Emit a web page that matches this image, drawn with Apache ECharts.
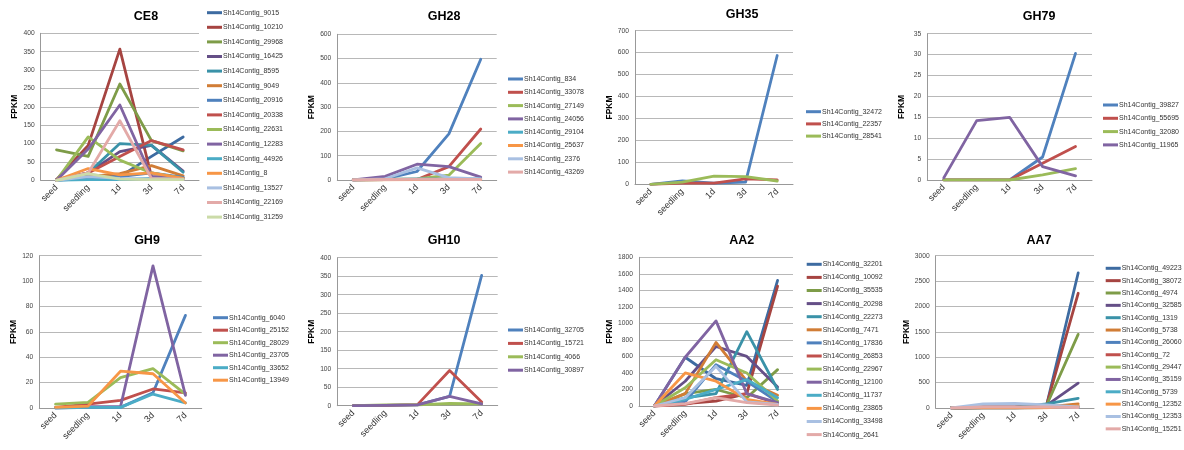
<!DOCTYPE html>
<html>
<head>
<meta charset="utf-8">
<script src="https://cdn.jsdelivr.net/npm/echarts@6/dist/echarts.min.js"></script>
<style>
  html, body { margin: 0; padding: 0; background: #fff; }
  #chart { width: 1184px; height: 450px; }
</style>
</head>
<body>
<div id="chart"></div>
<script>
// Sampling stages shared by every panel
const stages = ['seed', 'seedling', '1d', '3d', '7d'];

// CE8
const ce8Contigs = ['9015', '10210', '29968', '16425', '8595', '9049', '20916', '20338', '22631', '12283', '44926', '8', '13527', '22169', '31259'];
const ce8Fpkm = [
  [2, 15, 10, 65, 118],
  [2, 95, 357, 10, 5],
  [83, 65, 262, 108, 80],
  [2, 20, 78, 95, 25],
  [0, 20, 100, 95, 22],
  [0, 10, 18, 40, 12],
  [0, 5, 10, 20, 8],
  [0, 20, 65, 108, 83],
  [0, 118, 55, 20, 5],
  [0, 85, 205, 10, 5],
  [0, 2, 2, 5, 5],
  [0, 32, 15, 20, 5],
  [0, 10, 5, 3, 2],
  [0, 20, 162, 5, 3],
  [0, 18, 3, 2, 2]
];

// GH28
const gh28Contigs = ['834', '33078', '27149', '24056', '29104', '25637', '2376', '43269'];
const gh28Fpkm = [
  [0, 5, 35, 190, 497],
  [0, 2, 2, 55, 210],
  [0, 2, 5, 20, 150],
  [0, 15, 65, 55, 12],
  [0, 2, 5, 5, 5],
  [0, 1, 2, 3, 2],
  [0, 5, 50, 10, 5],
  [0, 2, 3, 2, 2]
];

// GH35
const gh35Contigs = ['32472', '22357', '28541'];
const gh35Fpkm = [
  [0, 15, 5, 10, 587],
  [0, 5, 5, 25, 20],
  [0, 10, 37, 35, 15]
];

// GH79
const gh79Contigs = ['39827', '55695', '32080', '11965'];
const gh79Fpkm = [
  [0, 0, 0, 5.5, 30.3],
  [0, 0, 0, 4, 8],
  [0, 0, 0, 1.2, 2.7],
  [0.5, 14.2, 15, 3.2, 1]
];

// GH9
const gh9Contigs = ['6040', '25152', '28029', '23705', '33652', '13949'];
const gh9Fpkm = [
  [0, 0.5, 0.5, 12, 73],
  [0.5, 3, 6, 15, 12],
  [3, 4.5, 24, 31, 11],
  [0, 1, 1, 112, 10],
  [0, 0.5, 0.5, 11, 4],
  [0.5, 1.5, 29, 27, 4]
];

// GH10
const gh10Contigs = ['32705', '15721', '4066', '30897'];
const gh10Fpkm = [
  [0, 1, 2, 25, 352],
  [0, 1, 3, 95, 10],
  [0, 2, 2, 6, 5],
  [0, 1, 2, 25, 5]
];

// AA2
const aa2Contigs = ['32201', '10092', '35535', '20298', '22273', '7471', '17836', '26853', '22967', '12100', '11737', '23865', '33498', '2641'];
const aa2Fpkm = [
  [0, 590, 330, 250, 1520],
  [0, 30, 60, 150, 1450],
  [0, 150, 200, 100, 440],
  [0, 300, 720, 600, 230],
  [0, 100, 150, 900, 200],
  [0, 150, 770, 300, 130],
  [0, 50, 500, 300, 50],
  [0, 20, 100, 150, 30],
  [0, 220, 560, 400, 60],
  [0, 590, 1030, 150, 40],
  [0, 80, 200, 320, 100],
  [0, 400, 300, 80, 20],
  [0, 100, 480, 50, 20],
  [0, 30, 100, 40, 10]
];

// AA7
const aa7Contigs = ['49223', '38072', '4974', '32585', '1319', '5738', '26060', '72', '29447', '35159', '5739', '12352', '12353', '15251'];
const aa7Fpkm = [
  [0, 20, 20, 50, 2660],
  [0, 15, 15, 50, 2260],
  [0, 10, 10, 50, 1450],
  [0, 10, 10, 50, 490],
  [0, 10, 10, 80, 190],
  [0, 5, 5, 20, 80],
  [0, 5, 5, 20, 30],
  [0, 5, 5, 10, 20],
  [0, 5, 5, 10, 15],
  [0, 5, 5, 10, 10],
  [0, 5, 5, 10, 20],
  [0, 3, 3, 5, 40],
  [0, 80, 90, 60, 20],
  [0, 20, 20, 20, 10]
];

// Office-style palettes: shaded, base and tinted accents
const shade = ['#3d6ba1', '#a64441', '#7e9c48', '#654f87', '#3a92a8', '#d17d36'];
const base = ['#4f81bd', '#c0504d', '#9bbb59', '#8064a2', '#4bacc6', '#f79646'];
const tint = ['#a9c0e2', '#e3aaa8', '#cbdba8', '#c1b3d6', '#a8d6e3', '#fbc59b'];
const manyColors = shade.concat(base, tint);
const fewColors = base.concat(tint);

// Panel layout in pixels
const panels = [
  { title: 'CE8',  contigs: ce8Contigs,  fpkm: ce8Fpkm,  max: 400,  step: 50,  colors: manyColors,
    grid: [40.7, 33.3, 158.3, 147],   titleXY: [146, 17],   nameGap: 16, legend: [207, 12.7, 14.6] },
  { title: 'GH28', contigs: gh28Contigs, fpkm: gh28Fpkm, max: 600,  step: 100, colors: fewColors,
    grid: [337.3, 34.3, 159.4, 145.7], titleXY: [444, 17],   nameGap: 20, legend: [508, 79, 13.3] },
  { title: 'GH35', contigs: gh35Contigs, fpkm: gh35Fpkm, max: 700,  step: 100, colors: fewColors,
    grid: [635, 30.7, 158, 153.6],    titleXY: [742, 15],   nameGap: 18, legend: [806, 111.7, 12.2] },
  { title: 'GH79', contigs: gh79Contigs, fpkm: gh79Fpkm, max: 35,   step: 5,   colors: fewColors,
    grid: [927.3, 33.7, 164.7, 146.3], titleXY: [1039, 17],  nameGap: 21, legend: [1103, 105, 13.3] },
  { title: 'GH9',  contigs: gh9Contigs,  fpkm: gh9Fpkm,  max: 120,  step: 20,  colors: fewColors,
    grid: [39.3, 255.7, 162.4, 152.3], titleXY: [147, 240.7], nameGap: 18, legend: [213, 317.7, 12.5] },
  { title: 'GH10', contigs: gh10Contigs, fpkm: gh10Fpkm, max: 400,  step: 50,  colors: fewColors,
    grid: [337.3, 257.7, 160.4, 148], titleXY: [444, 240.7], nameGap: 20, legend: [508, 330, 13.4] },
  { title: 'AA2',  contigs: aa2Contigs,  fpkm: aa2Fpkm,  max: 1800, step: 200, colors: manyColors,
    grid: [639, 257.3, 154, 148.7],   titleXY: [741.7, 240.7], nameGap: 22, legend: [806.7, 264.3, 13.1] },
  { title: 'AA7',  contigs: aa7Contigs,  fpkm: aa7Fpkm,  max: 3000, step: 500, colors: manyColors,
    grid: [935.7, 255.7, 158.3, 152.3], titleXY: [1039, 240.7], nameGap: 22, legend: [1105.7, 268.3, 12.35] }
];

const option = {
  backgroundColor: '#fff',
  animation: false,
  title: [], grid: [], xAxis: [], yAxis: [], legend: [], series: []
};

panels.forEach((p, i) => {
  const names = p.contigs.map(c => 'Sh14Contig_' + c);
  option.title.push({
    text: p.title, left: p.titleXY[0], top: p.titleXY[1] - 7, textAlign: 'center', padding: 0,
    textStyle: { fontSize: 12.5, fontWeight: 'bold', color: '#000', fontFamily: 'Liberation Sans' }
  });
  option.grid.push({ left: p.grid[0], top: p.grid[1], width: p.grid[2], height: p.grid[3], containLabel: false });
  option.xAxis.push({
    type: 'category', gridIndex: i, data: stages, boundaryGap: true,
    axisLine: { lineStyle: { color: '#999', width: 1 } },
    axisTick: { show: false },
    axisLabel: { rotate: 45, interval: 0, fontSize: 9, color: '#333', margin: 6, fontFamily: 'Liberation Sans' }
  });
  option.yAxis.push({
    type: 'value', gridIndex: i, min: 0, max: p.max, interval: p.step,
    name: 'FPKM', nameLocation: 'middle', nameGap: p.nameGap, nameRotate: 90,
    nameTextStyle: { fontSize: 8.5, fontWeight: 'bold', color: '#000', fontFamily: 'Liberation Sans' },
    axisLine: { show: true, lineStyle: { color: '#999', width: 1 } },
    axisTick: { show: false },
    axisLabel: { fontSize: 6.7, color: '#444', margin: 6, fontFamily: 'Liberation Sans',
                 formatter: v => String(v) },
    splitLine: { lineStyle: { color: '#b8b8b8', width: 1 } }
  });
  option.legend.push({
    orient: 'vertical', left: p.legend[0], top: p.legend[1] - 4, padding: 0,
    itemGap: p.legend[2] - 8, itemWidth: 15, itemHeight: 3, icon: 'rect',
    selectedMode: false, data: names,
    textStyle: { fontSize: 7, lineHeight: 8, color: '#333', fontFamily: 'Liberation Sans', padding: [0, 0, 0, -4] }
  });
  names.forEach((n, k) => {
    const c = p.colors[k % p.colors.length];
    option.series.push({
      type: 'line', name: n, xAxisIndex: i, yAxisIndex: i, data: p.fpkm[k],
      showSymbol: false, symbol: 'none', smooth: false,
      lineStyle: { color: c, width: 2.8, cap: 'round', join: 'round' },
      itemStyle: { color: c },
      emphasis: { disabled: true }
    });
  });
});

const chart = echarts.init(document.getElementById('chart'), null, { renderer: 'canvas' });
chart.setOption(option);
</script>
</body>
</html>
